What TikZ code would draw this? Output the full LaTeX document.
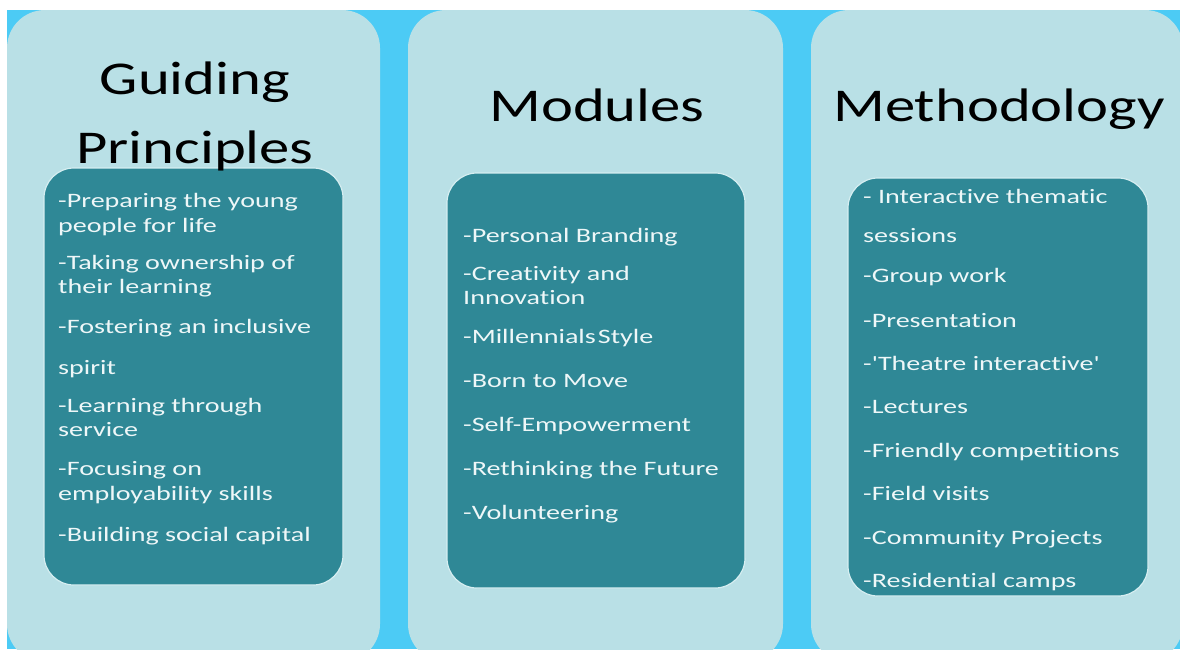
\documentclass[tikz,border=0pt]{standalone}
\usepackage{fontspec}
\setmainfont{Carlito}
\newfontfamily\headfont[FakeStretch=1.29,Ligatures={NoCommon,NoContextual}]{Carlito}
\newfontfamily\itemfont[FakeStretch=1.37,Ligatures={TeXOff,NoCommon,NoContextual}]{Carlito}
\definecolor{skyblue}{HTML}{4CCBF5}
\definecolor{panelblue}{HTML}{B9E0E6}
\definecolor{boxteal}{HTML}{2F8896}
\definecolor{boxedge}{HTML}{D6EEF1}
\definecolor{entrywhite}{HTML}{EEF7F8}
\tikzset{
  panel/.style={fill=panelblue, rounded corners=38pt},
  listbox/.style={fill=boxteal, draw=boxedge, line width=1.2pt, rounded corners=30pt},
  heading/.style={font=\headfont\fontsize{47}{50}\selectfont, text=black, inner sep=0pt, anchor=base},
  entry/.style={font=\itemfont\fontsize{20.5}{24}\selectfont, text=entrywhite, inner sep=0pt, anchor=base west},
}
\begin{document}
\begin{tikzpicture}[x=1pt, y=-1pt]
  \useasboundingbox (0,0) rectangle (1180,649);
  \fill[white] (0,0) rectangle (1180,649);
  \begin{scope}
    \clip (0,0) rectangle (1180,649);
    % backdrop and the three columns
    \fill[skyblue] (7,10) rectangle (1180,649);
    \path[panel] (7,10) rectangle (380,662);
    \path[panel] (408,10) rectangle (783,662);
    \path[panel] (811,10) rectangle (1183,662);
  \end{scope}

  % inner list boxes
  \draw[listbox] (44,168) rectangle (343,585);
  \draw[listbox] (447,173) rectangle (745,588);
  \draw[listbox] (848,178) rectangle (1148,596);

  % column headings
  \node[heading] (gp1) at (195,94) {Guiding};
  \node[heading] (gp2) at (195,163) {Principles};
  \node[heading] (mod) at (597,121) {Modules};
  \node[heading] (meth) at (999,121) {Methodology};

  % guiding principles
  \foreach \t/\y [count=\i] in {
      {-Preparing the young}/207, {people for life}/232,
      {-Taking ownership of}/269, {their learning}/293,
      {-Fostering an inclusive}/333, {spirit}/374,
      {-Learning through}/412, {service}/436,
      {-Focusing on}/475, {employability skills}/500,
      {-Building social capital}/541}
    \node[entry] (gp-\i) at (58,\y) {\t};

  % modules
  \foreach \t/\y [count=\i] in {
      {-Personal Branding}/242, {-Creativity and}/280, {Innovation}/304,
      {-Millennials\kern2pt Style}/343, {-Born to Move}/387,
      {-Self-Empowerment}/431, {-Rethinking the Future}/475,
      {-Volunteering}/519}
    \node[entry] (mod-\i) at (463,\y) {\t};

  % methodology
  \foreach \t/\y [count=\i] in {
      {- Interactive thematic}/203, {sessions}/242, {-Group work}/282,
      {-Presentation}/327, {-'Theatre interactive'}/370, {-Lectures}/413,
      {-Friendly competitions}/457, {-Field visits}/500,
      {-Community Projects}/544, {-Residential camps}/587}
    \node[entry] (meth-\i) at (863,\y) {\t};
\end{tikzpicture}
\end{document}
